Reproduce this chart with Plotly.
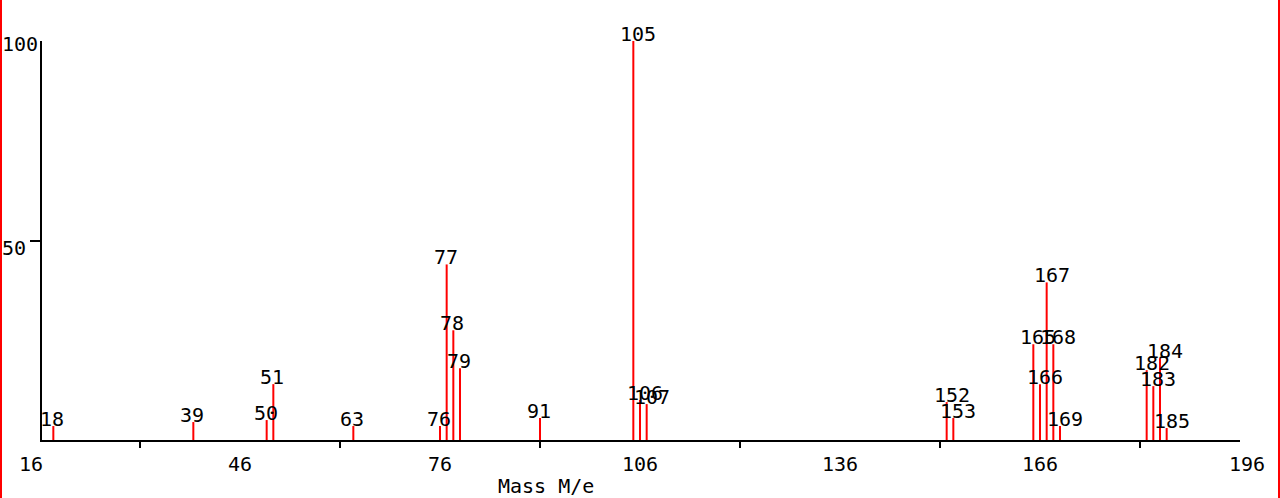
import plotly.graph_objects as go

# ---- data ----
masses = [18, 39, 50, 51, 63, 76, 77, 78, 79, 91, 105, 106, 107,
          152, 153, 165, 166, 167, 168, 169, 182, 183, 184, 185]
intensities = [3.5, 4.5, 5, 14, 3.5, 3.5, 44, 27.5, 18, 5.5, 100, 10, 9,
               9.5, 5.5, 24, 14, 39.5, 24, 3.5, 17.5, 13.5, 20.5, 3]
x_tick_labels = [16, 46, 76, 106, 136, 166, 196]
x_minor_ticks = [31, 61, 91, 121, 151, 181]
y_tick_labels = [100, 50]

# ---- style / layout constants ----
W, H = 1280, 498
ML, MR, MT, MB = 42, 40, 41, 58
PW, PH = W - ML - MR, H - MT - MB
X_MIN, X_MAX = 16, 196
X_START = X_MIN + 2 * (X_MAX - X_MIN) / 1200   # y-axis line sits at x=41
FONT = "DejaVu Sans Mono"
FS = 20


def py_to_paper(py):
    return (H - MB - py) / PH


def px_to_paper(px):
    return (px - ML) / PW


def mass_to_paper(m):
    return (m - X_START) / (X_MAX - X_START)


xs, ys = [], []
for m, v in zip(masses, intensities):
    xs += [m, m, None]
    ys += [0, v, None]

fig = go.Figure()
fig.add_trace(go.Scatter(x=xs, y=ys, mode="lines",
                         line=dict(color="#ff0000", width=2),
                         hoverinfo="skip", showlegend=False))

annotations = []
# peak labels
for m, v in zip(masses, intensities):
    annotations.append(dict(x=m, y=v, xref="x", yref="y", text=str(m),
                            showarrow=False, xanchor="left", yanchor="middle",
                            xshift=-15, yshift=7.5,
                            font=dict(family=FONT, size=FS, color="black")))
# x tick labels
for i, t in enumerate(x_tick_labels):
    shift = 0
    if i == 0:
        shift = -9
    elif i == len(x_tick_labels) - 1:
        shift = 7
    annotations.append(dict(x=mass_to_paper(t), y=py_to_paper(464),
                            xref="paper", yref="paper",
                            text=str(t), showarrow=False, xanchor="center",
                            yanchor="middle", xshift=shift,
                            font=dict(family=FONT, size=FS, color="black")))
# y tick labels
y_label_shift = {100: -3, 50: -7}
for t in y_tick_labels:
    annotations.append(dict(x=px_to_paper(0), y=t, xref="paper", yref="y",
                            text=str(t), showarrow=False, xanchor="left",
                            yanchor="middle", yshift=y_label_shift[t],
                            font=dict(family=FONT, size=FS, color="black")))
# axis title
annotations.append(dict(x=px_to_paper(546), y=py_to_paper(486), xref="paper",
                        yref="paper", text="Mass M/e", showarrow=False,
                        xanchor="center", yanchor="middle",
                        font=dict(family=FONT, size=FS, color="black")))

shapes = [
    dict(type="line", xref="paper", yref="paper",
         x0=px_to_paper(1), x1=px_to_paper(1),
         y0=py_to_paper(0), y1=py_to_paper(H),
         line=dict(color="#ff0000", width=2)),
    dict(type="line", xref="paper", yref="paper",
         x0=px_to_paper(1279), x1=px_to_paper(1279),
         y0=py_to_paper(0), y1=py_to_paper(H),
         line=dict(color="#ff0000", width=2)),
]

fig.update_layout(
    width=W, height=H,
    margin=dict(l=ML, r=MR, t=MT, b=MB, pad=0),
    paper_bgcolor="white", plot_bgcolor="white",
    annotations=annotations, shapes=shapes,
    xaxis=dict(range=[X_START, X_MAX], showgrid=False, zeroline=False,
               showline=True, linecolor="black", linewidth=2,
               tickmode="array", tickvals=x_minor_ticks, ticks="outside",
               ticklen=6, tickwidth=2, tickcolor="black",
               showticklabels=False, fixedrange=True),
    yaxis=dict(range=[0, 100], showgrid=False, zeroline=False,
               showline=True, linecolor="black", linewidth=2,
               tickmode="array", tickvals=[50], ticks="outside",
               ticklen=10, tickwidth=2, tickcolor="black",
               showticklabels=False, fixedrange=True),
)

fig.write_html(
    "out.html",
    config={"displayModeBar": False},
    post_script="document.body.style.margin='0';document.body.style.overflow='hidden';",
)
